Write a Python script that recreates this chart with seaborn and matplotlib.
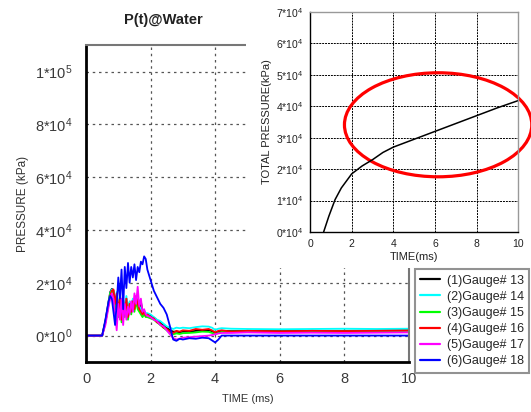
import numpy as np
import pandas as pd
import matplotlib
matplotlib.use("Agg")
import matplotlib.pyplot as plt
from matplotlib.patches import Ellipse, Rectangle
import seaborn as sns

# time axis (ms) shared by the six gauges
time_ms = [0.0, 0.5, 0.6, 0.7, 0.75, 0.8, 0.85, 0.9, 0.95, 1.0, 1.05, 1.1, 1.15, 1.2,
           1.25, 1.3, 1.35, 1.4, 1.45, 1.5, 1.55, 1.6, 1.65, 1.7, 1.75, 1.8, 1.85, 1.9,
           2.0, 2.1, 2.2, 2.3, 2.4, 2.5, 2.6, 2.7, 2.8, 2.9, 3.0, 3.2, 3.4, 3.6, 3.8, 3.9,
           4.0, 4.1, 4.2, 4.5, 5.0, 6.0, 7.0, 8.0, 9.0, 10.0]

# pressure in kPa
gauge13 = [0, 0, 5500, 13000, 16500, 17700, 17000, 11500, 15500, 8500, 14500, 6500, 13500, 8500,
           14000, 7500, 12500, 9500, 13500, 10500, 14500, 11500, 10500, 12800, 9000, 9000, 8000, 8000,
           7500, 6800, 5800, 5000, 4000, 3000, 2000, 1500, 1500, 1300, 1500, 1500, 1800, 2000, 2000, 1700,
           1000, 1500, 1800, 1700, 1800, 1700, 1800, 1800, 1900, 2000]
gauge14 = [0, 0, 5000, 12500, 16000, 17500, 17000, 11000, 16500, 9000, 15500, 7000, 14000, 9000,
           15000, 8000, 13000, 10000, 14000, 11000, 14000, 12000, 11000, 10000, 9000, 9500, 8500, 8500,
           8000, 7000, 6000, 5500, 4500, 3500, 3000, 2500, 3000, 2800, 3000, 2800, 3200, 3500, 3400, 3000,
           2200, 2600, 2800, 2600, 2500, 2400, 2500, 2600, 2500, 2600]
gauge15 = [0, 0, 5000, 12000, 16000, 17000, 16000, 10000, 15000, 7000, 13000, 5000, 12000, 7000,
           12000, 6000, 11000, 8000, 12000, 9000, 13000, 10000, 9000, 8000, 7000, 8000, 7000, 7000,
           6500, 6000, 5000, 4000, 3000, 2000, 1000, 500, 800, 600, 900, 1000, 1200, 1500, 1400, 1000,
           600, 1000, 1400, 1500, 1600, 1500, 1600, 1600, 1700, 1800]
gauge16 = [0, 0, 5000, 12000, 15000, 17000, 17500, 12000, 16000, 8000, 15000, 6000, 13000, 8000,
           14000, 7000, 12000, 9000, 13000, 10000, 15000, 12000, 10000, 9000, 8000, 9000, 7500, 8000,
           7000, 6500, 5000, 4500, 3000, 2500, 1500, 1000, 1800, 1500, 2000, 1800, 2500, 2200, 2500, 2000,
           1200, 1800, 2000, 1500, 1800, 1600, 1800, 1700, 1800, 1900]
gauge17 = [0, 0, 4000, 11000, 14000, 16000, 14000, 8000, 2000, 12000, 6000, 14000, 4000, 12000,
           6000, 11000, 8000, 13000, 9000, 16000, 12000, 18500, 11000, 14000, 9000, 10000, 8000, 7500,
           7000, 6000, 5500, 4000, 3500, 2000, 500, -1000, -1500, -1200, -800, -600, -400, -200, 0, 200,
           500, 800, 1000, 1000, 1200, 1000, 1100, 1000, 1100, 1200]
gauge18 = [0, 0, 6000, 13000, 15000, 14000, 9000, 4000, 12000, 22000, 14000, 25000, 10000, 26000,
           18000, 27500, 20000, 26000, 22000, 27000, 21000, 26000, 24000, 28000, 27000, 30000, 29000, 25000,
           21000, 17000, 14500, 12000, 10500, 8000, 3500, -1500, -2000, -1200, -1500, -1000, -1200, -800, -1000, -1800,
           -2600, -1500, 0, 0, 0, 0, 0, 0, 0, 0]

gauge_names = ["(1)Gauge# 13", "(2)Gauge# 14", "(3)Gauge# 15",
               "(4)Gauge# 16", "(5)Gauge# 17", "(6)Gauge# 18"]
gauge_colors = ["black", "cyan", "lime", "red", "magenta", "blue"]

# total pressure inset
total_time = [0.65, 0.9, 1.2, 1.5, 2.0, 2.5, 3.0, 3.5, 4.0, 5.0, 6.0, 7.0, 8.0, 9.0, 10.0]
total_kpa = [0, 5000, 10300, 14000, 18500, 21000, 23000, 25300, 27000, 29500, 32000, 34500, 37000, 39500, 41800]

main_yticks = [0, 20000, 40000, 60000, 80000, 100000]
main_ylabels = ["0*10$^0$", "2*10$^4$", "4*10$^4$", "6*10$^4$", "8*10$^4$", "1*10$^5$"]
inset_yticks = [0, 10000, 20000, 30000, 40000, 50000, 60000, 70000]
inset_ylabels = ["0*10$^4$", "1*10$^4$", "2*10$^4$", "3*10$^4$", "4*10$^4$",
                 "5*10$^4$", "6*10$^4$", "7*10$^4$"]

sns.set_theme(style="white")
plt.rcParams["font.family"] = ["Liberation Sans", "DejaVu Sans"]
plt.rcParams["mathtext.fontset"] = "custom"
plt.rcParams["mathtext.rm"] = "Liberation Sans"
plt.rcParams["mathtext.it"] = "Liberation Sans:italic"
plt.rcParams["mathtext.bf"] = "Liberation Sans:bold"

series = [gauge13, gauge14, gauge15, gauge16, gauge17, gauge18]
frames = []
for name, vals in zip(gauge_names, series):
    frames.append(pd.DataFrame({"time": time_ms, "pressure": vals, "gauge": name}))
df = pd.concat(frames, ignore_index=True)

fig = plt.figure(figsize=(5.31, 4.12), dpi=100)
ax = fig.add_axes([0.162, 0.1214, 0.608, 0.769])
ax.set_zorder(0)

sns.lineplot(data=df, x="time", y="pressure", hue="gauge", hue_order=gauge_names,
             palette=gauge_colors, estimator=None, sort=False, lw=1.3, ax=ax)

ax.set_xlim(0, 10)
ax.set_ylim(-10000, 110000)
ax.set_xticks([0, 2, 4, 6, 8, 10])
ax.set_yticks(main_yticks)
ax.set_yticklabels(main_ylabels)
ax.tick_params(axis="both", direction="out", length=7, width=1.8, colors="black",
               labelsize=10.5, labelcolor="#3a3a3a", pad=3)
ax.tick_params(axis="x", length=4, width=1.5)
ax.grid(True, color="#555555", linestyle=(0, (2, 3)), lw=0.9)
for side in ["left", "bottom"]:
    ax.spines[side].set_color("black")
    ax.spines[side].set_linewidth(2)
for side in ["top", "right"]:
    ax.spines[side].set_color("#777777")
    ax.spines[side].set_linewidth(1.5)
ax.set_xlabel("TIME (ms)", fontsize=8, color="#333333", labelpad=6)
ax.set_ylabel("PRESSURE (kPa)", fontsize=8.5, color="#333333", labelpad=4)

handles, labels = ax.get_legend_handles_labels()
ax.get_legend().remove()
leg = fig.legend(handles, labels, loc="upper left", bbox_to_anchor=(0.781, 0.347),
                 borderaxespad=0, frameon=True, fancybox=False, fontsize=9,
                 handlelength=1.6, borderpad=0.45, labelspacing=0.33, handletextpad=0.5)
leg.get_frame().set_edgecolor("#777777")
leg.get_frame().set_linewidth(1.5)
for line in leg.get_lines():
    line.set_linewidth(1.6)

# white area behind the inset
fig.add_artist(Rectangle((0.463, 0.35), 0.537, 0.65, transform=fig.transFigure,
                         facecolor="white", edgecolor="none", zorder=1))

ins = fig.add_axes([0.584, 0.437, 0.392, 0.534])
ins.set_zorder(2)
ins.set_facecolor("white")
sns.lineplot(x=total_time, y=total_kpa, color="black", lw=1.1, ax=ins)
ins.set_xlim(0, 10)
ins.set_ylim(0, 70000)
ins.set_xticks([0, 2, 4, 6, 8, 10])
ins.set_yticks(inset_yticks)
ins.set_yticklabels(inset_ylabels)
ins.tick_params(axis="both", direction="out", length=3, width=1, labelsize=7.5,
                labelcolor="#222222", pad=2)
ins.grid(True, color="black", linestyle=(0, (2, 1)), lw=0.7)
for side in ["left", "bottom"]:
    ins.spines[side].set_color("black")
    ins.spines[side].set_linewidth(1)
for side in ["top", "right"]:
    ins.spines[side].set_color("#999999")
    ins.spines[side].set_linewidth(1)
ins.set_xlabel("TIME(ms)", fontsize=8, color="#222222", labelpad=2)
ins.set_ylabel("TOTAL PRESSURE(kPa)", fontsize=8, color="#222222", labelpad=3)
ins.add_patch(Ellipse((6.15, 34100), 9.0, 33100, fill=False, edgecolor="red",
                      lw=2.3, clip_on=False))

fig.text(0.307, 0.951, "P(t)@Water", ha="center", va="center", fontsize=10.5,
         fontweight="bold", color="#222222")

fig.savefig("out.png", dpi=100)
